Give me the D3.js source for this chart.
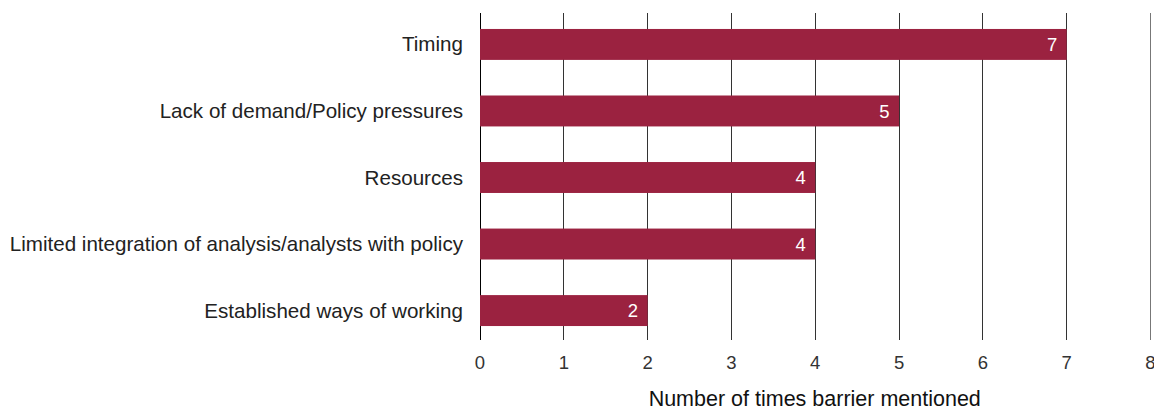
<!DOCTYPE html>
<html>
<head>
<meta charset="utf-8">
<script src="https://cdn.jsdelivr.net/npm/d3@7"></script>
<style>
  html, body { margin: 0; padding: 0; background: #fff; }
  svg { display: block; font-family: "Liberation Sans", Arial, Helvetica, sans-serif; }
</style>
</head>
<body>
<svg id="chart" width="1154" height="410"></svg>
<script>
// Barriers and how often each was mentioned
const categories = [
  "Timing",
  "Lack of demand/Policy pressures",
  "Resources",
  "Limited integration of analysis/analysts with policy",
  "Established ways of working"
];
const mentions = [7, 5, 4, 4, 2];
const tickValues = [0, 1, 2, 3, 4, 5, 6, 7, 8];
const axisTitle = "Number of times barrier mentioned";

const data = categories.map((c, i) => ({ category: c, value: mentions[i] }));

const svg = d3.select("#chart");
const barColor = "#9b2240";

const x = d3.scaleLinear().domain([0, 8]).range([479.5, 1150]);
const y = d3.scaleBand().domain(categories).range([11, 344])
  .paddingInner(0.535).paddingOuter(0.27);

const gridTop = 13, gridBottom = 340;

// Vertical gridlines
svg.append("g")
  .selectAll("line")
  .data(tickValues)
  .join("line")
  .attr("x1", d => Math.round(x(d)) + 0.5)
  .attr("x2", d => Math.round(x(d)) + 0.5)
  .attr("y1", gridTop)
  .attr("y2", gridBottom)
  .attr("stroke", d => d === 0 ? "#000" : (d === 8 ? "#777" : "#333"))
  .attr("stroke-width", 1);

// Bars
svg.append("g")
  .selectAll("rect")
  .data(data)
  .join("rect")
  .attr("x", x(0) + 0.5)
  .attr("y", d => y(d.category))
  .attr("width", d => x(d.value) - x(0))
  .attr("height", y.bandwidth())
  .attr("fill", barColor);

// Value labels inside bar ends
svg.append("g")
  .selectAll("text")
  .data(data)
  .join("text")
  .attr("x", d => x(d.value) - 9)
  .attr("y", d => y(d.category) + y.bandwidth() / 2)
  .attr("dy", "0.36em")
  .attr("text-anchor", "end")
  .attr("fill", "#fff")
  .attr("font-size", 18.5)
  .text(d => d.value);

// Category labels
svg.append("g")
  .selectAll("text")
  .data(data)
  .join("text")
  .attr("x", 463)
  .attr("y", d => y(d.category) + y.bandwidth() / 2)
  .attr("dy", "0.34em")
  .attr("text-anchor", "end")
  .attr("fill", "#222")
  .attr("font-size", 20.6)
  .text(d => d.category);

// X axis tick labels
const xAxis = d3.axisBottom(x).tickValues(tickValues).tickSize(0).tickPadding(0);
const gx = svg.append("g")
  .attr("transform", `translate(0, ${gridBottom})`)
  .call(xAxis);
gx.select(".domain").remove();
gx.selectAll("text")
  .attr("y", 29)
  .attr("dy", 0)
  .attr("fill", "#333")
  .attr("font-size", 18.5)
  .attr("font-family", "\"Liberation Sans\", Arial, sans-serif");

// Axis title
svg.append("text")
  .attr("x", (x(0) + x(8)) / 2)
  .attr("y", 406)
  .attr("text-anchor", "middle")
  .attr("fill", "#111")
  .attr("font-size", 21.5)
  .text(axisTitle);
</script>
</body>
</html>
